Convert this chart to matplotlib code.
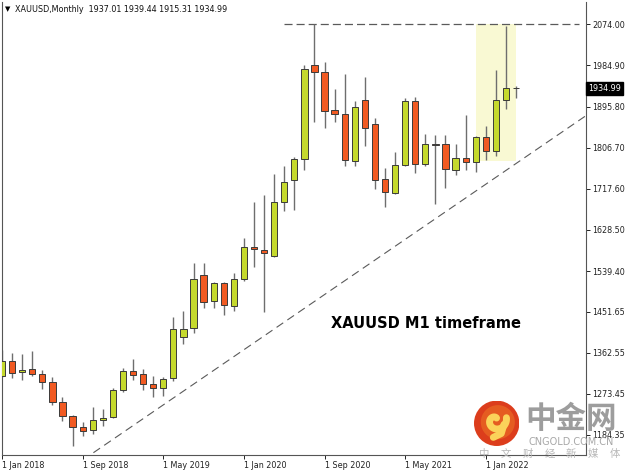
import matplotlib
matplotlib.use("Agg")
import matplotlib.pyplot as plt
import matplotlib.patches as patches
import numpy as np

plt.rcParams['lines.scale_dashes'] = False

# monthly XAUUSD candles, Jan 2018 .. Apr 2022
opens = [1312, 1345, 1320, 1327, 1317, 1300, 1255, 1225, 1202, 1195, 1217, 1224,
         1282, 1323, 1316, 1295, 1286, 1308, 1396, 1417, 1530, 1475, 1513, 1464,
         1523, 1591, 1584, 1573, 1688, 1736, 1782, 1985, 1970, 1888, 1880, 1778,
         1910, 1857, 1739, 1708, 1769, 1908, 1771, 1815, 1815, 1758, 1785, 1776,
         1830, 1799, 1909, 1937.01]
highs = [1368, 1362, 1360, 1366, 1326, 1311, 1266, 1227, 1212, 1245, 1240, 1287,
         1329, 1349, 1327, 1313, 1309, 1439, 1453, 1556, 1557, 1515, 1516, 1535,
         1612, 1690, 1704, 1749, 1767, 1787, 1986, 2075, 1993, 1934, 1966, 1908,
         1960, 1872, 1762, 1798, 1914, 1917, 1836, 1835, 1835, 1815, 1877, 1831,
         1854, 1976, 2070, 1939.44]
lows = [1309, 1307, 1304, 1312, 1283, 1249, 1214, 1161, 1182, 1186, 1204, 1221,
        1278, 1303, 1282, 1267, 1269, 1301, 1382, 1405, 1460, 1459, 1445, 1454,
        1517, 1548, 1451, 1570, 1670, 1671, 1758, 1863, 1850, 1863, 1767, 1768,
        1811, 1718, 1679, 1706, 1766, 1751, 1767, 1684, 1720, 1747, 1758, 1753,
        1781, 1789, 1891, 1915.31]
closes = [1345, 1318, 1326, 1316, 1300, 1255, 1226, 1202, 1194, 1216, 1222, 1282,
          1323, 1315, 1294, 1286, 1306, 1413, 1414, 1522, 1473, 1514, 1465, 1522,
          1591, 1587, 1579, 1688, 1732, 1782, 1977, 1970, 1886, 1880, 1780, 1895,
          1849, 1737, 1710, 1770, 1908, 1771, 1814, 1813, 1760, 1785, 1776, 1830,
          1799, 1909, 1937, 1934.99]

tick_pos = [0, 8, 16, 24, 32, 40, 48]
tick_text = ["1 Jan 2018", "1 Sep 2018", "1 May 2019", "1 Jan 2020",
             "1 Sep 2020", "1 May 2021", "1 Jan 2022"]
price_ticks = [1184.35, 1273.45, 1362.55, 1451.65, 1539.40, 1628.50,
               1717.60, 1806.70, 1895.80, 1984.90, 2074.00]

resistance = 2074.0
trend_start = (8, 1130)
trend_end = (58, 1877)
box_x = (47, 51)
box_y = (1778, 2074)

fig = plt.figure(figsize=(6.31, 4.73), dpi=100)
ax = fig.add_axes([2 / 631, 18 / 473, 584 / 631, 453 / 473])

x = np.arange(len(opens))
o = np.array(opens)
c = np.array(closes)
up = c > o
colors = np.where(up, '#c5d92d', '#f15a22')

# highlight box
ax.add_patch(patches.Rectangle((box_x[0], box_y[0]), box_x[1] - box_x[0],
                               box_y[1] - box_y[0], facecolor='#f9f9d3',
                               edgecolor='none', zorder=0))

ax.vlines(x, lows, highs, colors='#6e6e6e', linewidth=1.0, zorder=2)
heights = np.maximum(np.abs(c - o), 0.8)
ax.bar(x, heights, bottom=np.minimum(o, c), width=0.62, color=colors,
       edgecolor='#3a3a3a', linewidth=0.7, zorder=3)

ax.hlines(resistance, 28, 57.2, colors='#5a5a5a', linewidth=0.9,
          linestyles=(0, (5.8, 2.9)), zorder=1)
ax.plot([trend_start[0], trend_end[0]], [trend_start[1], trend_end[1]],
        color='#5a5a5a', linewidth=0.8, linestyle=(0, (5.8, 3.6)), zorder=1)

ax.set_xlim(0, 57.94)
ax.set_ylim(1141.0, 2122.3)

ax.yaxis.tick_right()
ax.set_yticks(price_ticks)
ax.set_yticklabels(["%.2f" % p for p in price_ticks])
ax.set_xticks(tick_pos)
ax.set_xticklabels(tick_text)
for lab in ax.get_xticklabels():
    lab.set_horizontalalignment('left')
ax.tick_params(axis='both', labelsize=5.8, colors='#222222', length=3,
               width=0.7, pad=1.5)
ax.tick_params(axis='y', labelcolor='#222222')

for side in ['left', 'right', 'bottom']:
    ax.spines[side].set_color('#555555')
    ax.spines[side].set_linewidth(0.8)
ax.spines['top'].set_visible(False)

# current price tag
ax.text(1.004, 1934.99, "1934.99", transform=ax.get_yaxis_transform(),
        fontsize=5.8, color='white', va='center', ha='left',
        bbox=dict(boxstyle='square,pad=0.25', facecolor='black',
                  edgecolor='black'))

fig.text(5 / 631, 1 - 9 / 473, "\u25bc", fontsize=5, va='center', ha='left')
fig.text(15 / 631, 1 - 9 / 473, "XAUUSD,Monthly  1937.01 1939.44 1915.31 1934.99",
         fontsize=5.8, va='center', ha='left', color='#111111')

fig.text(331 / 631, 1 - 324 / 473, "XAUUSD M1 timeframe", fontsize=10.5,
         fontweight='bold', va='center', ha='left', color='black')

# watermark
lax = fig.add_axes([474 / 631, (473 - 446) / 473, 45.4 / 631, 45.4 / 473])
lax.set_xlim(-1, 1)
lax.set_ylim(-1, 1)
lax.axis('off')
lax.add_patch(patches.Circle((0, 0), 1.0, facecolor='#dc3d1c', edgecolor='none'))
lax.add_patch(patches.Circle((0.05, 0.05), 0.75, facecolor='#ea6a24', edgecolor='none', alpha=0.7))
t = np.linspace(0, 1.7 * np.pi, 60)
r = 0.12 + 0.22 * t / np.pi
lax.plot(-0.05 + r * np.cos(t + 1.2), 0.12 + r * np.sin(t + 1.2), color='#fbd35a',
         linewidth=5, solid_capstyle='round')
lax.plot([0.32, 0.2, -0.15], [-0.05, -0.45, -0.62], color='#fbd35a', linewidth=5,
         solid_capstyle='round')

fig.text(571 / 631, 1 - 419 / 473, "中金网", fontsize=22, fontweight='bold',
         family=['Noto Sans CJK SC', 'DejaVu Sans'], color='#8c8c8c', alpha=0.85,
         va='center', ha='center')
fig.text(571 / 631, 1 - 442 / 473, "CNGOLD.COM.CN", fontsize=7, color='#a8a8a8',
         va='center', ha='center')
for k, ch in enumerate("中文财经新媒体"):
    fig.text((484 + k * 21.8) / 631, 1 - 454 / 473, ch, fontsize=7.5,
             family=['Noto Sans CJK SC', 'DejaVu Sans'], color='#b8b8b8',
             va='center', ha='center')

fig.savefig("out.png", dpi=100)
